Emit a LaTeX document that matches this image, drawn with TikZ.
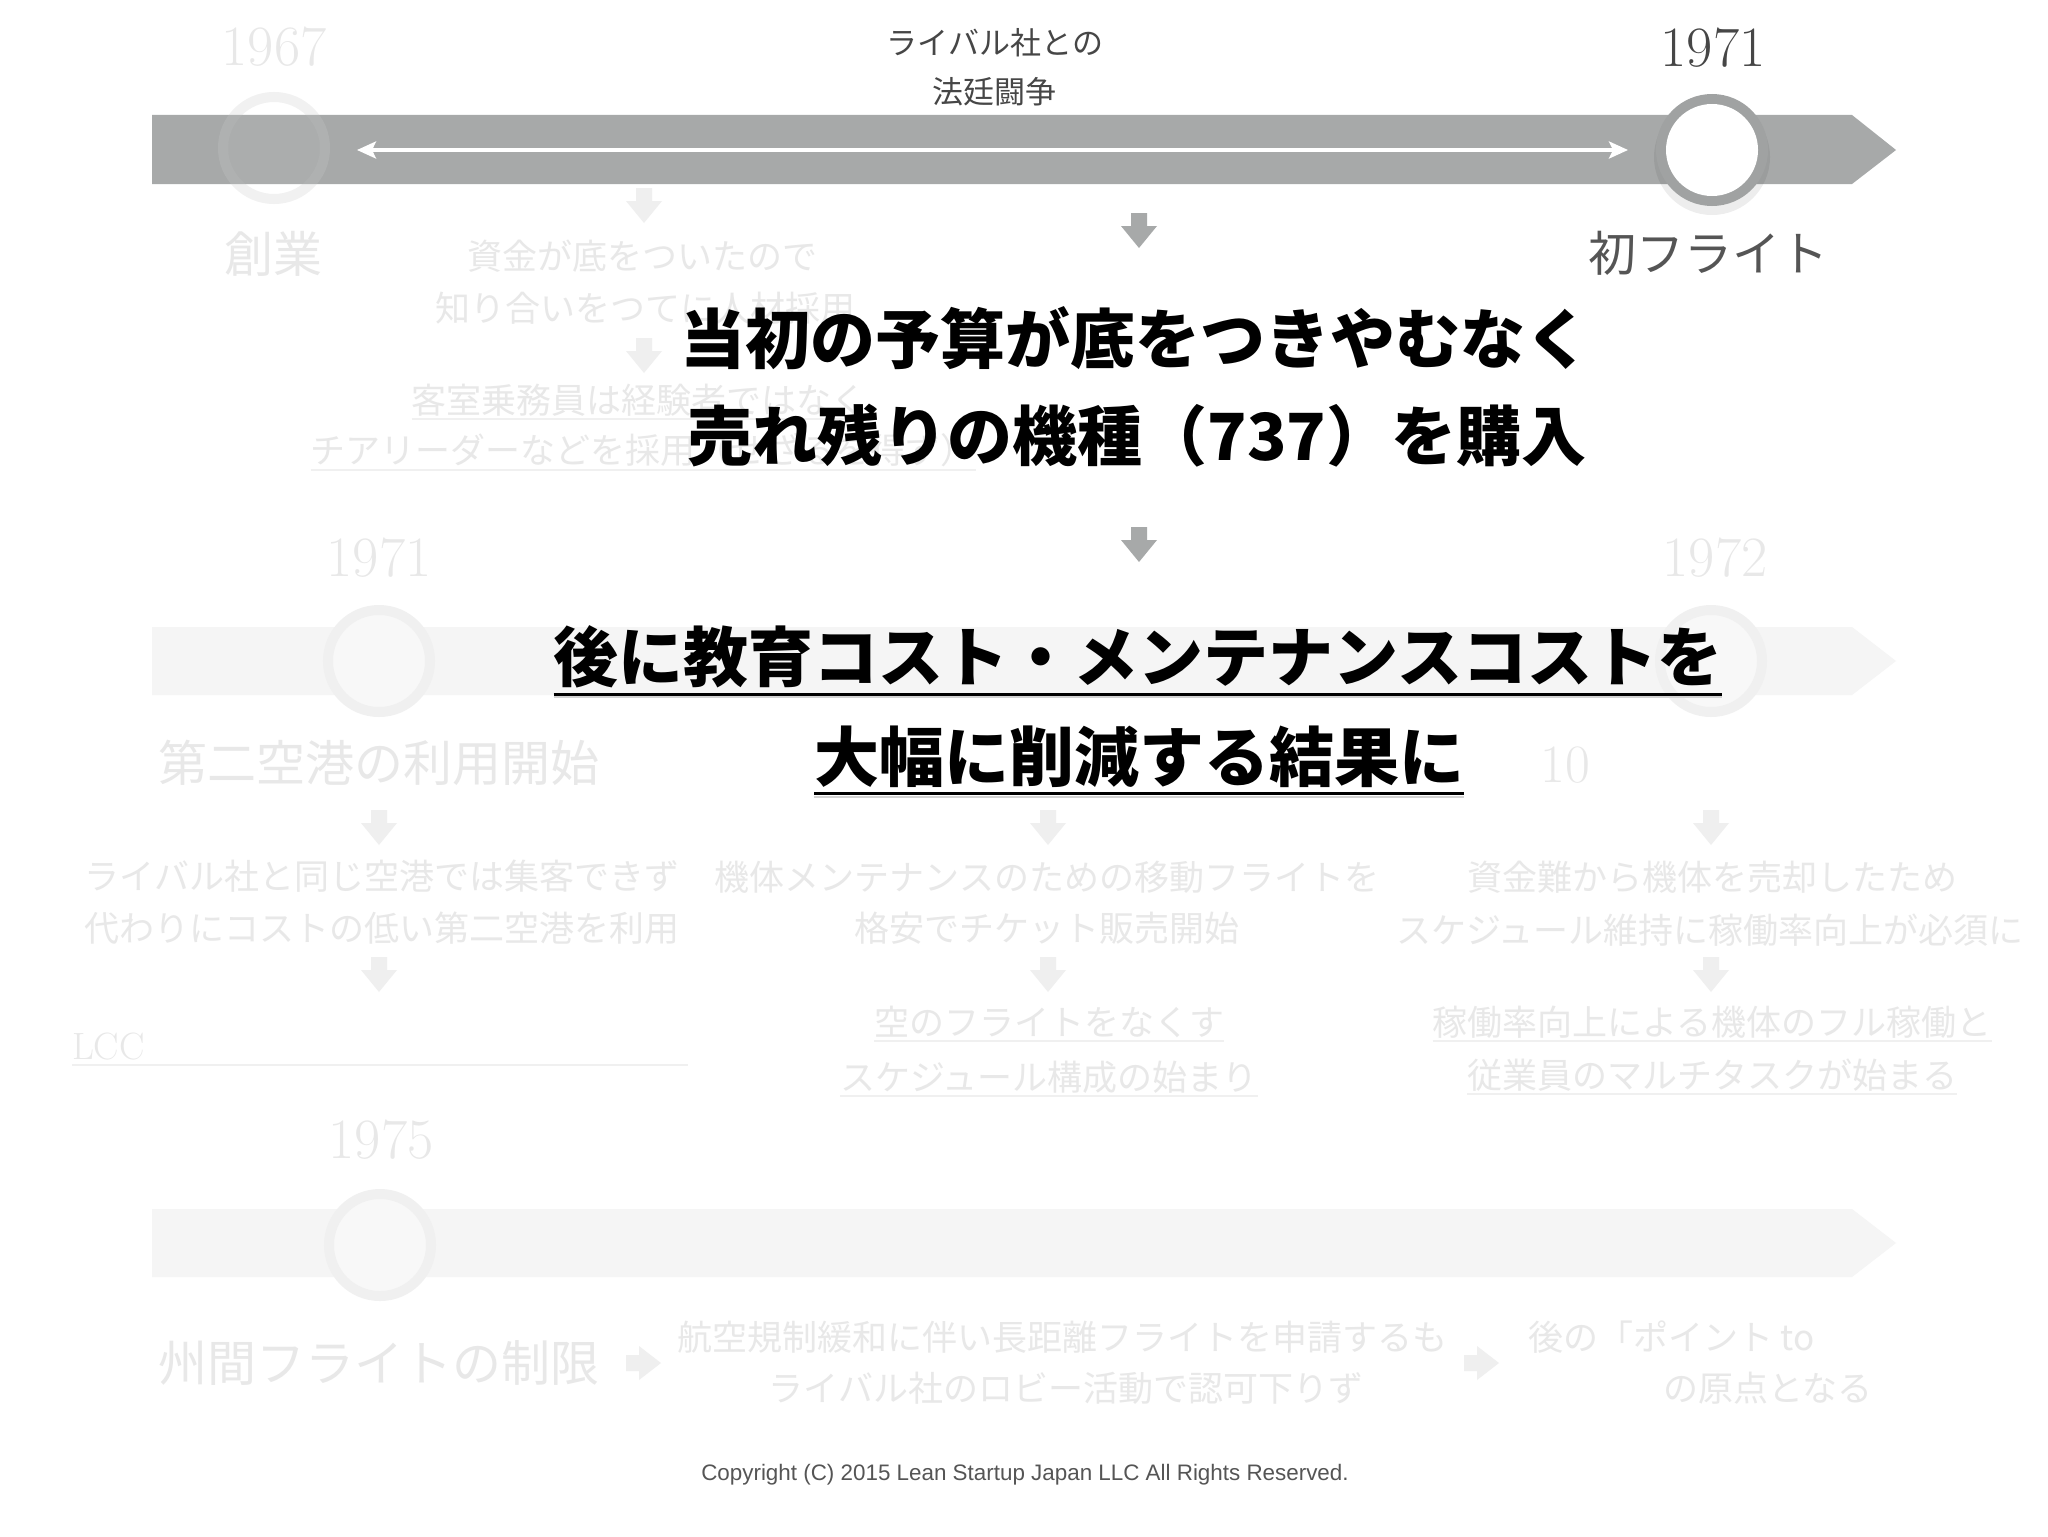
\documentclass[tikz,border=0pt]{standalone}
\usepackage{fontspec}
\newfontfamily\jp{Noto Sans CJK JP}
\newfontfamily\cprfont{Liberation Sans}
\usetikzlibrary{arrows.meta}
\definecolor{barcol}{RGB}{167,169,169}
\definecolor{ringcol}{RGB}{160,162,162}
\definecolor{fadebar}{RGB}{245,245,245}
\definecolor{fadetxt}{RGB}{232,232,232}
\definecolor{fadering}{RGB}{240,240,240}
\definecolor{fadearr}{RGB}{239,239,239}
\definecolor{labtxt}{RGB}{70,70,70}
\definecolor{cprtxt}{RGB}{85,85,85}
\newcommand\jpsize[2]{\jp\fontsize{#1}{#2}\selectfont}
\newcommand\dnarrow[3]{\fill[#3] ({#1-8},{#2}) -- ({#1+8},{#2}) -- ({#1+8},{#2+13}) -- ({#1+18},{#2+13}) -- ({#1},{#2+35}) -- ({#1-18},{#2+13}) -- ({#1-8},{#2+13}) -- cycle;}
\newcommand\rtarrow[3]{\fill[#3] ({#1},{#2-8}) -- ({#1+13},{#2-8}) -- ({#1+13},{#2-17}) -- ({#1+35},{#2}) -- ({#1+13},{#2+17}) -- ({#1+13},{#2+8}) -- ({#1},{#2+8}) -- cycle;}
\tikzset{
  fadesmall/.style={text=fadetxt, font={\jpsize{17.5pt}{26pt}}},
  fadebig/.style={text=fadetxt, font={\jpsize{24.5pt}{30pt}}},
  fadeyear/.style={text=fadetxt, font={\fontsize{28.5pt}{30pt}\selectfont}},
  fadeline/.style={draw=fadering, line width=1pt},
  bigtxt/.style={text=black, font={\jpsize{32.5pt}{40pt}\bfseries}},
  bigline/.style={draw=black, line width=1.5pt},
  labjp/.style={text=labtxt, font={\jpsize{15.5pt}{20pt}}},
}
\begin{document}
\begin{tikzpicture}[x=0.5pt,y=-0.5pt, every node/.style={inner sep=0pt, outer sep=0pt}]
\useasboundingbox (0,0) rectangle (2048,1536);
\fill[white] (0,0) rectangle (2048,1536);

% ---------- faded row 2 ----------
\fill[fadebar] (152,627) -- (1852,627) -- (1896,661) -- (1852,695) -- (152,695) -- cycle;
\draw[fadering, line width=5pt, fill={rgb,255:red,248;green,248;blue,248}] (379,661) circle (51);
\draw[fadering, line width=5pt, fill={rgb,255:red,248;green,248;blue,248}] (1711,661) circle (51);
\node[fadeyear] (y1971b) at (379,558) {1971};
\node[fadeyear] (y1972) at (1715,558) {1972};
\node[fadebig] (airport2) at (379,763) {第二空港の利用開始};
\node[fadeyear, font={\fontsize{27pt}{30pt}\selectfont}] (ten) at (1565,765) {10};
\dnarrow{379}{810}{fadearr}
\dnarrow{1048}{810}{fadearr}
\dnarrow{1711}{810}{fadearr}
\node[fadesmall] (l2a) at (382,876) {ライバル社と同じ空港では集客できず};
\node[fadesmall] (l2b) at (382,928) {代わりにコストの低い第二空港を利用};
\node[fadesmall] (m2a) at (1047,877) {機体メンテナンスのための移動フライトを};
\node[fadesmall] (m2b) at (1047,928) {格安でチケット販売開始};
\node[fadesmall] (r2a) at (1712,877) {資金難から機体を売却したため};
\node[fadesmall] (r2b) at (1710,930) {スケジュール維持に稼働率向上が必須に};
\dnarrow{379}{957}{fadearr}
\dnarrow{1048}{957}{fadearr}
\dnarrow{1711}{957}{fadearr}
\node[fadeyear, font={\fontsize{19pt}{22pt}\selectfont}, anchor=west] (lcc) at (72,1047) {LCC};
\draw[fadeline] ([yshift=-2pt]lcc.south west) -- ++(616,0);
\node[fadesmall] (m2c) at (1049,1022) {空のフライトをなくす};
\node[fadesmall] (m2d) at (1049,1077) {スケジュール構成の始まり};
\draw[fadeline] ([yshift=-1.5pt]m2c.south west) -- ([yshift=-1.5pt]m2c.south east);
\draw[fadeline] ([yshift=-1.5pt]m2d.south west) -- ([yshift=-1.5pt]m2d.south east);
\node[fadesmall] (r2c) at (1712,1022) {稼働率向上による機体のフル稼働と};
\node[fadesmall] (r2d) at (1712,1075) {従業員のマルチタスクが始まる};
\draw[fadeline] ([yshift=-1.5pt]r2c.south west) -- ([yshift=-1.5pt]r2c.south east);
\draw[fadeline] ([yshift=-1.5pt]r2d.south west) -- ([yshift=-1.5pt]r2d.south east);

% ---------- faded row 3 ----------
\fill[fadebar] (152,1209) -- (1852,1209) -- (1896,1243) -- (1852,1277) -- (152,1277) -- cycle;
\draw[fadering, line width=5pt, fill={rgb,255:red,248;green,248;blue,248}] (380,1245) circle (51);
\node[fadeyear] (y1975) at (381,1140) {1975};
\node[fadebig] (interstate) at (379,1363) {州間フライトの制限};
\rtarrow{626}{1363}{fadearr}
\node[fadesmall] (b3a) at (1062,1337) {航空規制緩和に伴い長距離フライトを申請するも};
\node[fadesmall] (b3b) at (1066,1388) {ライバル社のロビー活動で認可下りず};
\rtarrow{1464}{1363}{fadearr}
\node[fadesmall, anchor=west] (c3a) at (1528,1337) {後の「ポイント to};
\node[fadesmall, anchor=east] (c3b) at (1872,1388) {の原点となる};

% ---------- faded row 1 texts ----------
\node[fadeyear] (y1967) at (274,47) {1967};
\node[fadebig] (sogyo) at (273,254) {創業};
\dnarrow{644}{188}{fadearr}
\node[fadesmall] (f1a) at (642,256) {資金が底をついたので};
\node[fadesmall] (f1b) at (645,308) {知り合いをつてに人材採用};
\dnarrow{644}{338}{fadearr}
\node[fadesmall] (f1c) at (639,400) {客室乗務員は経験者ではなく};
\node[fadesmall] (f1d) at (643,450) {チアリーダーなどを採用（せざるを得ず）};
\draw[fadeline] ([yshift=-1.5pt]f1c.south west) -- ([yshift=-1.5pt]f1c.south east);
\draw[fadeline] ([yshift=-1.5pt]f1d.south west) -- ([yshift=-1.5pt]f1d.south east);

% ---------- active top row ----------
\draw[fadering, line width=5pt, fill=white] (274,148) circle (51);
\fill[barcol] (152,115) -- (1852,115) -- (1896,150) -- (1852,184) -- (152,184) -- cycle;
\draw[white, opacity=0.1, line width=5pt] (274,148) circle (51);
\fill[white, opacity=0.05] (274,148) circle (46);
\fill[black, opacity=0.07] (1712,157) circle (58);
\fill[ringcol] (1712,150) circle (56);
\fill[white] (1712,150) circle (46);
\coordinate (fightL) at (357,150);
\coordinate (fightR) at (1628,150);
\draw[white, line width=1.75pt, {Stealth[length=9.5pt,width=8.5pt,inset=2pt]}-{Stealth[length=9.5pt,width=8.5pt,inset=2pt]}] (fightL) -- (fightR);
\node[labjp] (rival1) at (995,43) {ライバル社との};
\node[labjp] (rival2) at (994,92) {法廷闘争};
\node[text=labtxt, font={\fontsize{28.5pt}{30pt}\selectfont}] (y1971) at (1713,48) {1971};
\node[text=cprtxt, font={\jpsize{24pt}{28pt}}] (first) at (1708,253) {初フライト};
\dnarrow{1139}{213}{barcol}
\dnarrow{1139}{527}{barcol}

% ---------- big foreground text ----------
\node[bigtxt] (big1) at (1135,338) {当初の予算が底をつきやむなく};
\node[bigtxt] (big2) at (1137,436) {売れ残りの機種（737）を購入};
\node[bigtxt] (big3) at (1138,657) {後に教育コスト・メンテナンスコストを};
\node[bigtxt] (big4) at (1139,757) {大幅に削減する結果に};
\draw[gray!35, line width=1pt] ([yshift=-4.5pt]big3.south west) -- ([yshift=-4.5pt]big3.south east);
\draw[gray!35, line width=1pt] ([yshift=-4.5pt]big4.south west) -- ([yshift=-4.5pt]big4.south east);
\draw[bigline] ([yshift=-3pt]big3.south west) -- ([yshift=-3pt]big3.south east);
\draw[bigline] ([yshift=-3pt]big4.south west) -- ([yshift=-3pt]big4.south east);

% ---------- copyright ----------
\node[text=cprtxt, font={\cprfont\fontsize{11.2pt}{13pt}\selectfont}] (copy) at (1025,1475) {Copyright (C) 2015 Lean Startup Japan LLC All Rights Reserved.};
\end{tikzpicture}
\end{document}
